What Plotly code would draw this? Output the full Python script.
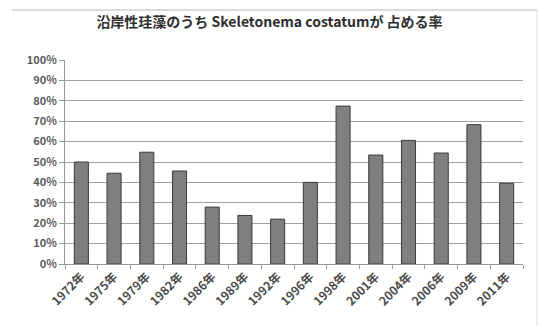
import plotly.graph_objects as go

years = ["1972年", "1975年", "1979年", "1982年", "1986年", "1989年", "1992年",
         "1996年", "1998年", "2001年", "2004年", "2006年", "2009年", "2011年"]
share = [0.50, 0.445, 0.548, 0.456, 0.279, 0.238, 0.22,
         0.40, 0.774, 0.534, 0.606, 0.544, 0.683, 0.396]
y_ticks = [i / 10 for i in range(11)]
y_labels = [f"{i * 10}%" for i in range(11)]

JP = "Noto Sans CJK JP"

fig = go.Figure(
    go.Bar(
        x=years,
        y=share,
        marker=dict(color="#7e8080", line=dict(color="#3a3b3b", width=1)),
        width=0.43,
    )
)

# faint frame around the chart area (top and right edges)
frame_top = 1 + 50 / 204
frame_left = -53 / 458
frame_right = 1 + 14 / 458

fig.update_layout(
    width=539,
    height=326,
    margin=dict(l=65, r=16, t=60, b=62),
    paper_bgcolor="white",
    plot_bgcolor="white",
    showlegend=False,
    title=dict(
        text="沿岸性珪藻のうち Skeletonema costatumが 占める率",
        x=0.5,
        xanchor="center",
        y=1 - 22 / 326,
        yanchor="middle",
        font=dict(family=JP, size=14, color="#2e2e2e", weight="bold"),
    ),
    shapes=[
        dict(type="line", xref="paper", yref="paper",
             x0=frame_left, x1=frame_right, y0=frame_top, y1=frame_top,
             line=dict(color="#cfcfcf", width=1.5), layer="below"),
        dict(type="line", xref="paper", yref="paper",
             x0=frame_right, x1=frame_right, y0=-0.5, y1=frame_top,
             line=dict(color="#dedede", width=1), layer="below"),
    ],
)

fig.update_xaxes(
    type="category",
    tickson="boundaries",
    ticks="outside",
    ticklen=4,
    tickcolor="#9a9a9a",
    showline=True,
    linecolor="#9a9a9a",
    showgrid=False,
    tickangle=-45,
    tickfont=dict(family=JP, size=12, color="#4a4a4a", weight="bold"),
)

fig.update_yaxes(
    range=[0, 1],
    tickvals=y_ticks,
    ticktext=y_labels,
    ticks="outside",
    ticklen=5,
    tickcolor="#9a9a9a",
    showline=True,
    linecolor="#9a9a9a",
    showgrid=True,
    gridcolor="#a0a0a0",
    gridwidth=1.2,
    zeroline=False,
    tickfont=dict(family=JP, size=11, color="#5a5a5a", weight="bold"),
)

fig.write_html("out.html")
